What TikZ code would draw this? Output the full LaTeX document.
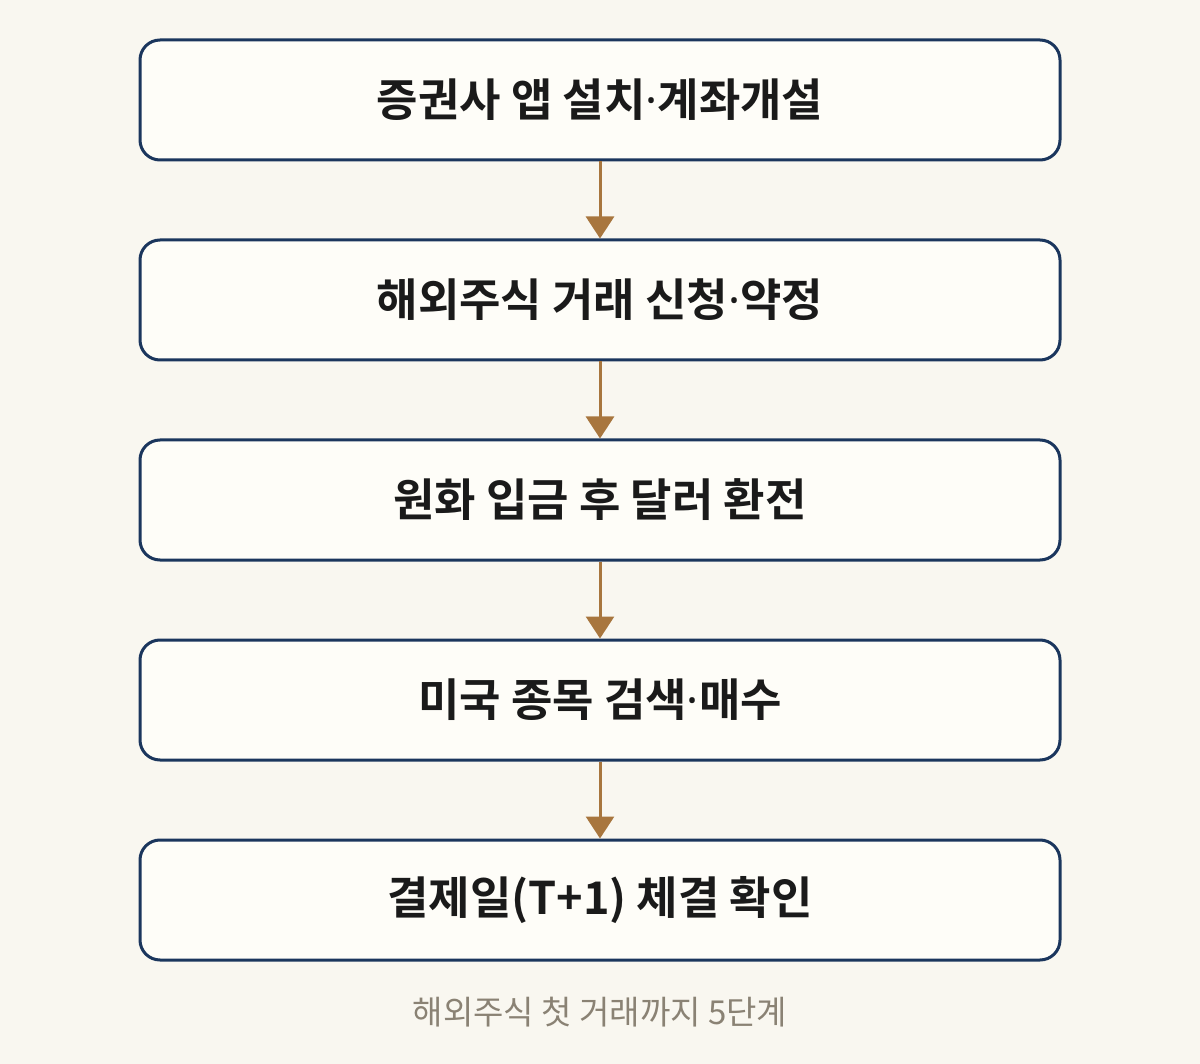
\documentclass[tikz,border=0pt]{standalone}
\usepackage{fontspec}
\newfontfamily\kr{Noto Sans CJK KR}
\newfontfamily\krb{Noto Sans CJK KR Bold}
\newfontfamily\latb{Noto Sans}
\newcommand{\mdot}{{\latb\bfseries ·}}
\usetikzlibrary{arrows.meta}
\definecolor{bg}{HTML}{F9F7F0}
\definecolor{boxfill}{HTML}{FEFDF8}
\definecolor{navy}{HTML}{1B365D}
\definecolor{brown}{HTML}{A8763E}
\definecolor{cap}{HTML}{8A8274}
\definecolor{ink}{HTML}{1A1A1A}
\tikzset{
  stepbox/.style={draw=navy, line width=3pt, fill=boxfill, rounded corners=20pt,
    minimum width=920pt, minimum height=120pt, inner sep=0pt,
    font=\krb\fontsize{45}{52}\selectfont, text=ink},
  conn/.style={draw=brown, line width=3pt, -{Triangle[length=22pt,width=28pt]}},
}
\begin{document}
\begin{tikzpicture}[x=1pt,y=-1pt]
\fill[bg] (0,0) rectangle (1200,1064);
\useasboundingbox (0,0) rectangle (1200,1064);
\node[stepbox] (s1) at (600,100) {증권사 앱 설치\mdot 계좌개설};
\node[stepbox] (s2) at (600,300) {해외주식 거래 신청\mdot 약정};
\node[stepbox] (s3) at (600,500) {원화 입금 후 달러 환전};
\node[stepbox] (s4) at (600,700) {미국 종목 검색\mdot 매수};
\node[stepbox] (s5) at (600,900) {결제일(T+1) 체결 확인};
\draw[conn] (s1.south) -- (s2.north);
\draw[conn] (s2.south) -- (s3.north);
\draw[conn] (s3.south) -- (s4.north);
\draw[conn] (s4.south) -- (s5.north);
\node[font=\kr\fontsize{33}{38}\selectfont, text=cap] (cap) at (600,1012) {해외주식 첫 거래까지 5단계};
\end{tikzpicture}
\end{document}
